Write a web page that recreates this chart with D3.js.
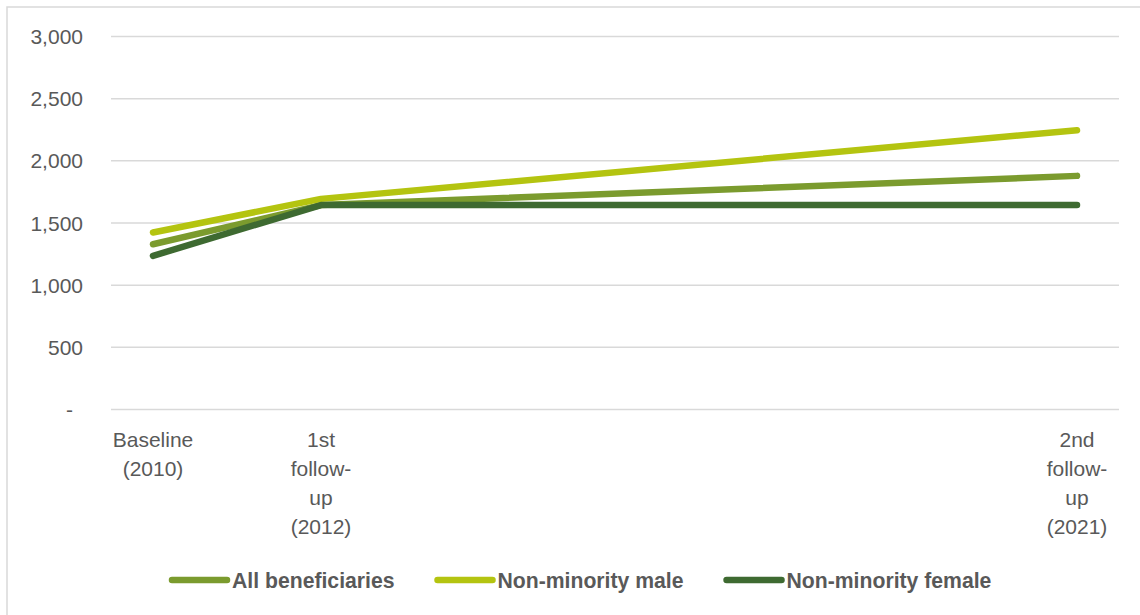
<!DOCTYPE html>
<html>
<head>
<meta charset="utf-8">
<script src="https://cdn.jsdelivr.net/npm/d3@7"></script>
<style>
  html, body { margin: 0; padding: 0; background: #fff; }
  svg { display: block; }
  text { font-family: "Liberation Sans", Arial, sans-serif; fill: #595959; }
</style>
</head>
<body>
<svg id="chart" width="1140" height="615"></svg>
<script>
// Survey rounds (year of each round) and their axis labels, one entry per line
const years = [2010, 2012, 2021];
const categoryLabels = [
  ["Baseline", "(2010)"],
  ["1st", "follow-", "up", "(2012)"],
  ["2nd", "follow-", "up", "(2021)"]
];

// Series values
const seriesNames = ["All beneficiaries", "Non-minority male", "Non-minority female"];
const allBeneficiaries = [1325, 1640, 1875];
const nonMinorityMale = [1420, 1690, 2242];
const nonMinorityFemale = [1232, 1640, 1640];
const seriesColors = ["#7b9b2e", "#b4c410", "#3e6a31"];

// Y axis ticks
const yTicks = [0, 500, 1000, 1500, 2000, 2500, 3000];

const series = [allBeneficiaries, nonMinorityMale, nonMinorityFemale].map((vals, i) => ({
  name: seriesNames[i],
  color: seriesColors[i],
  values: vals.map((v, j) => ({ year: years[j], value: v }))
}));

const svg = d3.select("#chart");

// Outer chart frame
svg.append("rect")
  .attr("x", 7).attr("y", 7)
  .attr("width", 1160).attr("height", 640)
  .attr("fill", "none")
  .attr("stroke", "#d9d9d9")
  .attr("stroke-width", 1.5);

const plot = { left: 111, right: 1119, top: 36, bottom: 409 };

const x = d3.scaleLinear()
  .domain([years[0] - 0.5, years[years.length - 1] + 0.5])
  .range([plot.left, plot.right]);

const y = d3.scaleLinear()
  .domain([0, 3000])
  .range([plot.bottom, plot.top]);

// Accounting-style number format: zero shows as a dash
const fmt = v => v === 0 ? "-" : d3.format(",")(v);

// Horizontal gridlines and y tick labels
const yAxis = d3.axisLeft(y)
  .tickValues(yTicks)
  .tickSize(-(plot.right - plot.left))
  .tickPadding(28)
  .tickFormat(fmt);

const yg = svg.append("g")
  .attr("transform", `translate(${plot.left},0)`)
  .call(yAxis);
yg.select(".domain").remove();
yg.selectAll(".tick line")
  .attr("stroke", "#d9d9d9")
  .attr("stroke-width", 1.5);
yg.selectAll(".tick text")
  .attr("font-family", "Liberation Sans, Arial, sans-serif")
  .attr("font-size", 21)
  .attr("fill", "#595959")
  .attr("dy", "0.36em")
  .attr("dx", d => d === 0 ? -10 : 0);

// Category labels under the plot, wrapped onto several lines
const xg = svg.append("g");
const lineHeight = 29;
xg.selectAll("text.cat")
  .data(years)
  .join("text")
  .attr("class", "cat")
  .attr("text-anchor", "middle")
  .attr("font-size", 21)
  .attr("x", d => x(d))
  .attr("y", 447)
  .each(function (d, i) {
    const t = d3.select(this);
    categoryLabels[i].forEach((line, k) => {
      t.append("tspan")
        .attr("x", x(d))
        .attr("y", 447 + k * lineHeight)
        .text(line);
    });
  });

// Lines
const line = d3.line()
  .x(d => x(d.year))
  .y(d => y(d.value));

svg.append("g")
  .selectAll("path")
  .data(series)
  .join("path")
  .attr("d", d => line(d.values))
  .attr("fill", "none")
  .attr("stroke", d => d.color)
  .attr("stroke-width", 6.5)
  .attr("stroke-linecap", "round")
  .attr("stroke-linejoin", "round");

// Legend
const legend = svg.append("g");
let lx = 172;
const ly = 580;
series.forEach(s => {
  legend.append("line")
    .attr("x1", lx).attr("x2", lx + 55)
    .attr("y1", ly).attr("y2", ly)
    .attr("stroke", s.color)
    .attr("stroke-width", 6.5)
    .attr("stroke-linecap", "round");
  const t = legend.append("text")
    .attr("x", lx + 60)
    .attr("y", ly)
    .attr("dy", "0.36em")
    .attr("font-size", 21.2)
    .attr("font-weight", "bold")
    .text(s.name);
  lx += 60 + t.node().getComputedTextLength() + 43;
});
</script>
</body>
</html>
